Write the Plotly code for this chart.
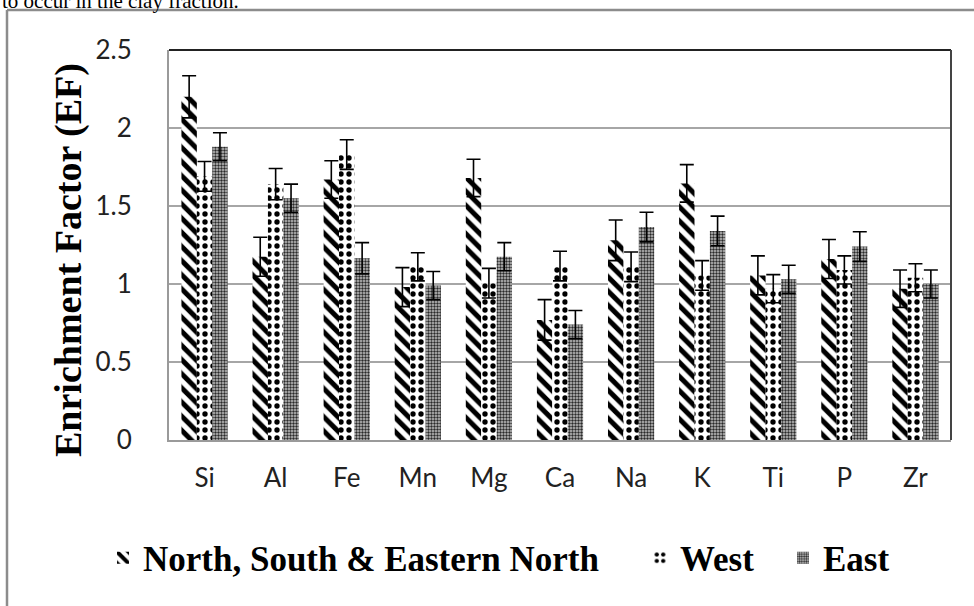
import plotly.graph_objects as go

# Enrichment factors by element for three sampling regions
elements = ["Si", "Al", "Fe", "Mn", "Mg", "Ca", "Na", "K", "Ti", "P", "Zr"]

nse_ef = [2.20, 1.175, 1.67, 0.98, 1.68, 0.77, 1.28, 1.645, 1.055, 1.16, 0.97]
nse_err = [0.135, 0.125, 0.12, 0.125, 0.12, 0.13, 0.13, 0.12, 0.125, 0.125, 0.12]

west_ef = [1.69, 1.64, 1.83, 1.11, 1.005, 1.115, 1.11, 1.055, 0.97, 1.09, 1.04]
west_err = [0.095, 0.10, 0.095, 0.09, 0.095, 0.095, 0.095, 0.095, 0.09, 0.09, 0.09]

east_ef = [1.88, 1.55, 1.165, 0.99, 1.175, 0.74, 1.365, 1.34, 1.03, 1.24, 1.0]
east_err = [0.09, 0.09, 0.10, 0.09, 0.09, 0.09, 0.095, 0.095, 0.09, 0.095, 0.09]

series_names = ["North, South & Eastern North", "West", "East"]
y_ticks = [0, 0.5, 1, 1.5, 2, 2.5]
y_tick_text = ["0", "0.5", "1", "1.5", "2", "2.5"]

W, H = 974, 606
ML, MR, MT, MB = 169, 23, 50, 166
PW, PH = W - ML - MR, H - MT - MB


def px_to_paper_x(px):
    return (px - ML) / PW


def px_to_paper_y(py):
    return (H - MB - py) / PH


def err_bar(arr):
    return dict(type="data", array=arr, color="black", thickness=1.6, width=7, visible=True)


fig = go.Figure()

fig.add_trace(go.Bar(
    x=elements, y=nse_ef, name="<b>" + series_names[0] + "</b>", legend="legend",
    error_y=err_bar(nse_err),
    marker=dict(color="white", line=dict(width=0),
                pattern=dict(shape="\\", fgcolor="black", bgcolor="white",
                             fgopacity=1, size=10, solidity=0.5)),
))
fig.add_trace(go.Bar(
    x=elements, y=west_ef, name="<b>" + series_names[1] + "</b>", legend="legend2",
    error_y=err_bar(west_err),
    marker=dict(color="white", line=dict(width=0),
                pattern=dict(shape=".", fgcolor="black", bgcolor="white",
                             fgopacity=1, size=8, solidity=0.35)),
))
fig.add_trace(go.Bar(
    x=elements, y=east_ef, name="<b>" + series_names[2] + "</b>", legend="legend3",
    error_y=err_bar(east_err),
    marker=dict(color="white", line=dict(width=0),
                pattern=dict(shape=".", fgcolor="#2a2a2a", bgcolor="#c4c4c4",
                             fgopacity=1, size=3, solidity=0.5)),
))

legend_font = dict(family="Liberation Serif", size=35, color="black")
legend_y = px_to_paper_y(558)
common_legend = dict(orientation="h", yanchor="middle", y=legend_y, xanchor="left",
                     font=legend_font, bgcolor="rgba(0,0,0,0)", borderwidth=0,
                     itemwidth=30, traceorder="normal")

fig.update_layout(
    width=W, height=H,
    margin=dict(l=ML, r=MR, t=MT, b=MB, pad=0),
    paper_bgcolor="white", plot_bgcolor="white",
    barmode="group", bargap=0.35, bargroupgap=0,
    showlegend=True,
    legend=dict(common_legend, x=px_to_paper_x(103)),
    legend2=dict(common_legend, x=px_to_paper_x(640)),
    legend3=dict(common_legend, x=px_to_paper_x(783)),
    xaxis=dict(
        type="category", showgrid=False, zeroline=False,
        showline=True, linecolor="#9a9a9a", linewidth=2,
        ticks="", tickfont=dict(family="Lato", size=26, color="#222"),
        ticklabelstandoff=14,
    ),
    yaxis=dict(
        range=[0, 2.5], tickvals=y_ticks, ticktext=y_tick_text,
        showgrid=True, gridcolor="#a6a6a6", gridwidth=1.5,
        zeroline=False, showline=True, linecolor="#9a9a9a", linewidth=2,
        ticks="", tickfont=dict(family="Lato", size=26, color="#222"),
        ticklabelstandoff=30,
    ),
    annotations=[
        dict(text="<b>Enrichment Factor (EF)</b>", textangle=-90,
             xref="paper", yref="paper", x=px_to_paper_x(68), y=px_to_paper_y(260),
             xanchor="center", yanchor="middle", showarrow=False,
             font=dict(family="Liberation Serif", size=38, color="black")),
        dict(text="to occur in the clay fraction.",
             xref="paper", yref="paper", x=px_to_paper_x(0), y=px_to_paper_y(1),
             xanchor="left", yanchor="middle", showarrow=False,
             font=dict(family="Liberation Serif", size=21, color="black")),
    ],
    shapes=[
        # outer frame around the figure
        dict(type="line", xref="paper", yref="paper",
             x0=px_to_paper_x(7), x1=px_to_paper_x(W + 5),
             y0=px_to_paper_y(10), y1=px_to_paper_y(10),
             line=dict(color="#8c8c8c", width=2.5)),
        dict(type="line", xref="paper", yref="paper",
             x0=px_to_paper_x(7), x1=px_to_paper_x(7),
             y0=px_to_paper_y(10), y1=px_to_paper_y(H + 5),
             line=dict(color="#8c8c8c", width=2.5)),
        # dark top and right edges of the plotting area
        dict(type="line", xref="paper", yref="paper", x0=0, x1=1, y0=1, y1=1,
             line=dict(color="#222", width=2)),
        dict(type="line", xref="paper", yref="paper", x0=1, x1=1, y0=0, y1=1,
             line=dict(color="#444", width=2)),
    ],
)

fig.write_html("out.html")
